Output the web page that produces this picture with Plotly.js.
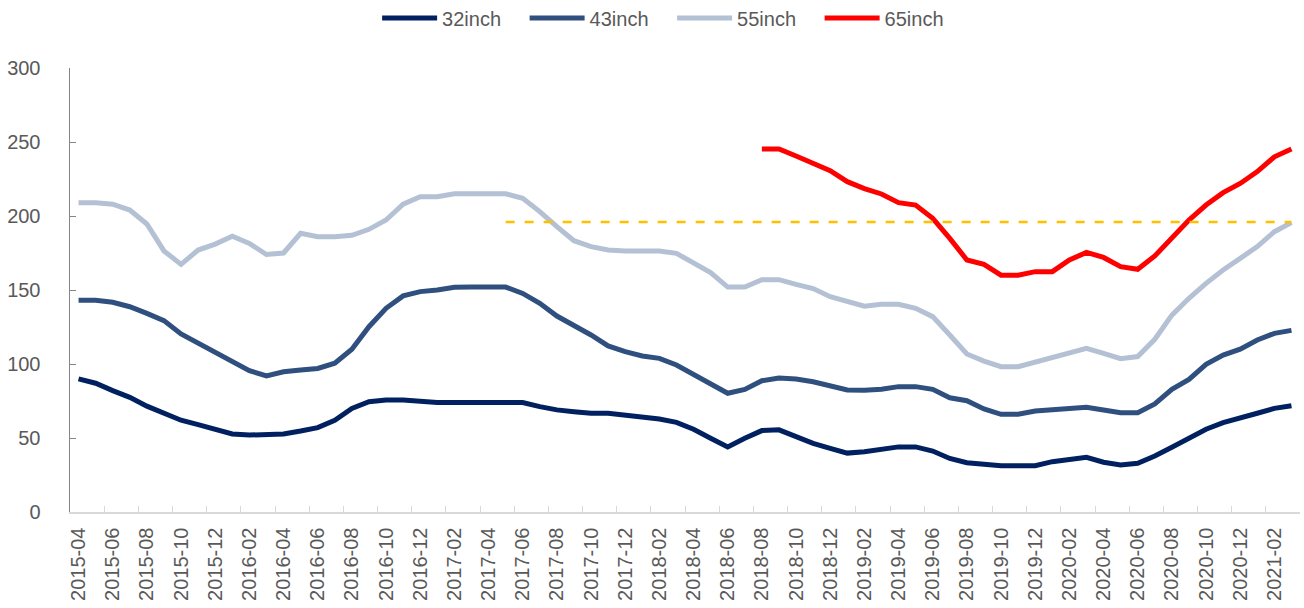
<!DOCTYPE html>
<html>
<head>
<meta charset="utf-8">
<script src="https://cdn.plot.ly/plotly-3.0.1.min.js"></script>
<style>html,body{margin:0;padding:0;background:#fff;}#chart{width:1304px;height:608px;}</style>
</head>
<body>
<div id="chart"></div>
<script>
// Months 2015-04 .. 2021-03
const months = [];
for (let y = 2015; y <= 2021; y++) {
  for (let m = 1; m <= 12; m++) {
    if ((y === 2015 && m < 4) || (y === 2021 && m > 3)) continue;
    months.push(y + '-' + String(m).padStart(2, '0'));
  }
}

const inch32 = [90, 87, 82, 77.5, 71.5, 67, 62, 59, 55.5, 52.7, 52, 52, 52.7, 54.7, 57, 62, 70, 74.5, 75.7, 75.7, 74.8, 74,
  74, 74, 74, 74, 74, 71.2, 69, 67.8, 66.8, 66.7, 65.5, 63.7, 62.8, 60.6, 55.9, 49.8, 44, 49.8, 55, 55.5, 51, 46.4, 43,
  39.8, 40.7, 42.6, 44, 44, 41.2, 36.2, 33.3, 32.2, 31.3, 31.3, 31.3, 34, 35.1, 36.9, 33.6, 31.8, 32.9, 37.8, 43.7, 49.8,
  55.9, 60.4, 63.3, 66.7, 70, 71.8];
const inch43 = [143, 143, 141.7, 138.7, 134.2, 129.3, 120.3, 114, 107.2, 101, 95.5, 92, 94.8, 96, 97, 100.5, 110, 125.2,
  137.6, 146, 148.9, 150, 151.8, 152, 152, 152, 147.7, 141, 132.4, 126.4, 119.6, 112.2, 108.3, 105.4, 103.8, 99.3, 93.2,
  86.5, 80.2, 82.8, 88.7, 90.5, 89.9, 88, 85.1, 82.4, 82.3, 82.9, 84.7, 84.7, 82.9, 77.2, 75.2, 69.6, 66, 66, 68.2, 68.9,
  69.8, 70.7, 68.9, 67.1, 67.1, 73, 82.9, 89.6, 99.8, 106, 110, 116.2, 120.7, 122.7];
const inch55 = [209, 209, 208, 204, 194.6, 176.4, 167.3, 177, 181, 186.3, 181.5, 174, 175, 188.3, 186, 186, 187, 191,
  197.3, 208, 213, 213, 215, 215, 215, 215, 212, 203, 192.8, 183.3, 179.3, 177, 176.4, 176.4, 176.4, 174.8, 168.7, 161.7,
  152, 152, 157, 157, 153.8, 151, 145.5, 142, 139, 140.3, 140.3, 137.6, 132, 119.6, 106.8, 102, 98.2, 98.2, 101.4, 104.5,
  107.6, 110.6, 107.2, 103.6, 105, 116.7, 133, 144.4, 154.5, 163.5, 171.4, 179.3, 189.4, 195.5];
const inch65 = [null, null, null, null, null, null, null, null, null, null, null, null, null, null, null, null, null, null,
  null, null, null, null, null, null, null, null, null, null, null, null, null, null, null, null, null, null, null, null,
  null, null, 245.3, 245.3, 240.5, 235.6, 230.6, 223.2, 218.5, 214.9, 209, 207.4, 198.4, 184.9, 170.3, 167.3, 160, 160,
  162.4, 162.4, 170.3, 175.4, 172, 165.8, 164, 173, 184.9, 197.3, 207.4, 215.8, 222, 230, 240, 245.3];
const refLevel = 196;
const refStart = '2017-05';

const seriesNames = ['32inch', '43inch', '55inch', '65inch'];
const seriesColors = ['#002060', '#2F4F7F', '#B4C0D3', '#FF0000'];
const seriesData = [inch32, inch43, inch55, inch65];

const traces = seriesData.map((ys, k) => ({
  type: 'scatter', mode: 'lines', name: seriesNames[k],
  x: months, y: ys,
  line: {color: seriesColors[k], width: 5},
  connectgaps: false, hoverinfo: 'x+y+name'
}));
const refX = months.slice(months.indexOf(refStart));
traces.push({
  type: 'scatter', mode: 'lines', showlegend: false,
  x: refX, y: refX.map(() => refLevel),
  line: {color: '#FFC000', width: 2.5, dash: '9px,10px'}
});

const layout = {
  width: 1304, height: 608,
  margin: {l: 70, r: 4, t: 68, b: 96, autoexpand: false},
  paper_bgcolor: '#ffffff', plot_bgcolor: '#ffffff',
  font: {family: '"Liberation Sans", Arial, sans-serif', size: 20, color: '#595959'},
  showlegend: true,
  legend: {
    orientation: 'h', xref: 'container', yref: 'container',
    x: 0.2892, xanchor: 'left', y: 1 - 18 / 608, yanchor: 'middle',
    font: {size: 20, color: '#595959'}, itemwidth: 55, entrywidth: 77.5, traceorder: 'normal'
  },
  xaxis: {
    type: 'category', categoryorder: 'array', categoryarray: months,
    range: [-0.5, months.length - 0.5],
    tickmode: 'linear', dtick: 2, tick0: 0, tickson: 'boundaries',
    ticks: 'inside', ticklen: 6, tickcolor: '#D9D9D9', tickwidth: 1,
    tickangle: -90, ticklabelstandoff: 6,
    showline: true, linecolor: '#D9D9D9', linewidth: 1.5,
    showgrid: false, zeroline: false,
    tickfont: {size: 20, color: '#595959'}
  },
  yaxis: {
    range: [0, 300], tickvals: [0, 50, 100, 150, 200, 250, 300],
    ticks: 'inside', ticklen: 6, tickcolor: '#868686', tickwidth: 1,
    showline: true, linecolor: '#868686', linewidth: 1.5,
    showgrid: false, zeroline: false, ticklabelstandoff: 24,
    tickfont: {size: 20, color: '#595959'}
  }
};

Plotly.newPlot('chart', traces, layout, {displayModeBar: false, staticPlot: true});
</script>
</body>
</html>
